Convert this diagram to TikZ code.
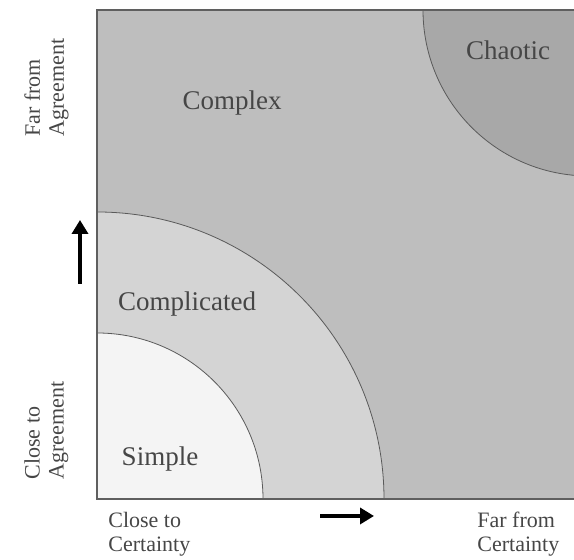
\documentclass[tikz,border=0pt]{standalone}
\usepackage{fontspec}
\setmainfont{Liberation Serif}
\definecolor{simplefill}{RGB}{244,244,244}
\definecolor{complicatedfill}{RGB}{212,212,212}
\definecolor{complexfill}{RGB}{190,190,190}
\definecolor{chaoticfill}{RGB}{168,168,168}
\definecolor{edgegray}{RGB}{90,90,90}
\definecolor{framegray}{RGB}{95,95,95}
\definecolor{labelgray}{RGB}{70,70,70}
\usepackage{tikz}
\usetikzlibrary{arrows.meta, positioning}

\begin{document}
\begin{tikzpicture}[x=0.5pt,y=0.5pt,
    zonelabel/.style={text=labelgray, font=\fontsize{13.5}{15}\selectfont},
    axislabel/.style={text=labelgray, align=left, inner sep=0pt, font=\fontsize{11}{12}\selectfont},
    axisarrow/.style={line width=2pt, -{Triangle[length=7pt,width=8pt]}}]
        \useasboundingbox (-97,-61) rectangle (477,499);
        % domains
        \begin{scope}
          \clip (0,0) rectangle (477,489);
          \fill[complexfill] (0,0) rectangle (492,489);
          \draw[fill=chaoticfill, draw=edgegray, thin] (492,489) circle[radius=166];
          \draw[fill=complicatedfill, draw=edgegray, thin] (0,0) -- (287,0) arc[start angle=0, end angle=90, radius=287] -- cycle;
          \draw[fill=simplefill, draw=edgegray, thin] (0,0) -- (166,0) arc[start angle=0, end angle=90, radius=166] -- cycle;
        \end{scope}
        \draw[framegray, line width=1.4pt] (477,489) -- (0,489) -- (0,0) -- (477,0);
        \node[zonelabel] (complex) at (135,396) {Complex};
        \node[zonelabel] (chaotic) at (411,449) {Chaotic};
        \node[zonelabel] (complicated) at (90,195) {Complicated};
        \node[zonelabel] (simple) at (63,40) {Simple};
        % axes
        \node[axislabel, anchor=north west] (closecert) at (11,-13) {Close to\\Certainty};
        \node[axislabel, anchor=north west] (farcert) at (380,-13) {Far from\\Certainty};
        \node[axislabel, anchor=north west, rotate=90] (faragr) at (-73,362) {Far from\\Agreement};
        \node[axislabel, anchor=north west, rotate=90] (closeagr) at (-73,19) {Close to\\Agreement};
        \coordinate (certtail) at (223,-17);
        \coordinate (certtip) at (277,-17);
        \coordinate (agrtail) at (-17,215);
        \coordinate (agrtip) at (-17,279);
        \draw[axisarrow] (certtail) -- (certtip);
        \draw[axisarrow] (agrtail) -- (agrtip);
      \end{tikzpicture}
\end{document}
